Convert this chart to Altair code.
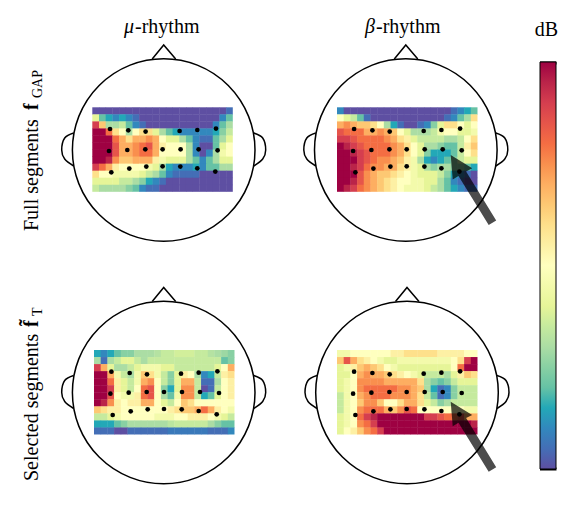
import altair as alt
import pandas as pd

alt.data_transformers.disable_max_rows()

SPECTRAL_R = ["#5e4fa2", "#3288bd", "#66c2a5", "#abdda4", "#e6f598", "#ffffbf",
              "#fee08b", "#fdae61", "#f46d43", "#d53e4f", "#9e0142"]
LEVELS = list(range(11))

FULL_MU = [
 [0,0,0,0,0,0,0,0,0,0,0,0,0,0,0,0,0,0,0,0,0.5],
 [4,2,1.5,1,1.5,1,0.5,0,0,0,0,0,0,0,0,0,0,0,0,1,2],
 [9,6.5,3,3,3.5,2,1,0.5,0,0,0,0,0,0,0,0,0,0,1,2,3],
 [10,10,8,6,5,3,5,6,6,4,3,2,1.5,1,1,1,1,1,1.5,2.5,3.5],
 [10,10,10,8,7,6,7,7,7.5,7,5,4,4,3,2,1,0.5,0.5,2,3,4],
 [10,10,10,8.5,7,7,7.5,8,8.5,7,5.5,5,5,5,3,1,0,0,2,4,5],
 [10,10,10,8.5,7,7,7.5,8,8,7,5,5,5,5,3,1,0,1,3,4.5,5],
 [10,10,9.5,7.5,6.5,6.5,7,7,7,5.5,4.5,4,4,4,3,2,1,2,3,4,4],
 [9,8,7,5.5,5,5,5,5,4.5,4,3,1.5,1,1,1,1.5,1,2,2,3,3],
 [6,5,5,4.5,4.5,4.5,4.5,4,3.5,3,2,1,0.5,0.5,0.5,0.5,0,0,0,0,0],
 [4,4,4,4,3.5,3.5,3,2.5,1.5,1,0.5,0,0,0,0,0,0,0,0,0,0],
 [3.5,3,3,3,3,2.5,2,1,0.5,0.5,0,0,0,0,0,0,0,0,0,0,0],
]
FULL_BETA = [
 [1,0,0,0,0,0,0,0,0,0,0,0,0,0,0,0,0,0.5,1,1.5,2],
 [5,4,3.5,2,0.5,0,0,0,0,0,0,0,0,0,0,0,0.5,1,2,3,6],
 [7,7.5,7,6.5,6.5,6,5,3,1.5,0.5,0,0,0.5,1,2.5,4,6,6,5,4,5],
 [8.5,8,8,8,7,7,7.5,7,6.5,5,4,3,3,3,3.5,4.5,5,5,4,4,4.5],
 [9,9,8.5,8,8,8,8,7.5,7,6,5.5,4,3.5,3.5,3.5,3.5,3,3,3.5,5,6],
 [10,9.5,9,8.5,8,8,8,8,7.5,7,6,5,4,3,3,2.5,2,2,3.5,5.5,6.5],
 [10,10,9.5,9,8.5,8,8,8,7.5,7,6,5,4,2.5,1.5,1.5,1.5,2,3.5,5,6],
 [10,10,10,9,8.5,8,7.5,7.5,7,6.5,5.5,4.5,3,1.5,1,1.5,2,2.5,3.5,4,4],
 [10,10,9.5,9,8,7.5,7.5,7,7,6,5.5,4.5,4,3,2.5,3,3,2.5,2.5,2,1.5],
 [10,10,10,8.5,7.5,7,6.5,6.5,6,5.5,5,4.5,4,4,4,3.5,2.5,1.5,1,0.5,0],
 [10,10,9.5,8.5,7.5,7,6.5,6,5.5,5,5,4.5,4.5,4,4,3,2,1,0.5,0,0],
 [10,9.5,9,8,7.5,7,6.5,6,5.5,5,4.5,4.5,4.5,4,3.5,3,2,1.5,1,0.5,0.5],
]
SEL_MU = [
 [1.5,1,1.5,2,2.5,2.5,3,3,3,3.2,3.5,3.5,3.7,3.7,3.7,3.5,3.5,3.2,3,2.8,2.5],
 [3,0.5,3,3.5,4,4,3.5,3,3.5,3.5,3.5,3.5,3.5,3.5,3.5,3.5,3.5,3.5,3.5,2,2.5],
 [9,7,4,3,3,3.5,4,4.5,4.5,4.5,4,4,3.5,3.5,3.5,3.5,3.5,3.5,4,5,7],
 [10,10,7,4.5,3.5,3,4.5,6.5,6,4.5,3.5,2.5,4,5.5,5,3,1,1.5,3.5,5.5,6],
 [10,10,8,5.5,4,3.5,4.5,7,7.5,5,3.5,2.5,4,7,7,3.5,0.5,0.5,3,5,5.5],
 [10,10,9,5.5,4,3.5,5,8,8.5,5,2.5,1.5,4,7.5,7.5,3.5,0,0.5,3.5,5,5.5],
 [10,10,8.5,5,4.5,4.5,5.5,8,8.5,5,3,2,4.5,7.5,7.5,3.5,1.5,2,4,5,5.5],
 [10,9.5,7.5,5.5,5,5.5,5.5,7,7,5,4,3.5,5,6.5,6,5,5,5,5,5,5],
 [6.5,6,5.5,5.5,5,5,5,5,5,5,5,5.5,6,6.5,6.5,7,8,7,5.5,5,4.5],
 [3.5,3.5,4,4.5,5,5,5,5,5,4.5,4.5,4.5,5,5,5.5,5.5,5.5,5,4.5,4,3.5],
 [1.5,1.5,1.5,2,2.5,3,3,3,3,3,3,3.3,3.5,3.5,3.5,3.5,3.5,3,2.5,2,2],
 [0.5,0.5,0.5,0,0,0.5,0.5,0.5,0.5,0.5,0.5,0.7,0.7,0.7,0.7,0.7,0.7,0.5,0.5,0.5,1],
]
SEL_BETA = [
 [4.5,4.5,5,5,5,5,5,5,5.5,5.5,6,6,6,6,6,5.5,5.5,5.5,5.5,5,5],
 [6.5,8.5,7,6,5.5,5,4.5,4,4,4.5,4.5,4.5,4.5,4.5,4.5,4.5,4.5,5,6,9,10],
 [4,4.5,5.5,6.5,7,6.5,6,5,4.5,4,4,4,4,4,4,4,4,5,8,10,10],
 [4,4,5,7,7.5,7,7,6.5,6,5.5,5,4.5,4,3.5,3.5,3.5,3,4,5.5,6.5,6],
 [4,4.5,5,7.5,7.5,7.5,7.5,7,7,7,7,7,6,3,2.5,2,2.5,3.5,4,4,4],
 [4,4.5,5,7.5,8,8,8,8,8,7.5,7.5,7,6.5,3,1.5,0.5,1,2.5,3.5,3.5,3.5],
 [3.5,4.5,5,7,7.5,8,8,8,7.5,7.5,7.5,7,6,3.5,2,0.5,1,2.5,3.5,3.5,3.5],
 [3.5,4.5,5,6.5,7.5,7.5,6.5,5,5,6,7,7,6,4,3.5,2.5,3,3.5,3.5,3.5,3.5],
 [3.5,4.5,5,7.5,8,8,8,7,6.5,7.5,8.5,8,5,5,5,5,5,5,5,4.5,4.5],
 [4,4.5,5,8,9,9.5,10,10,10,10,10,10,10,9,9,8.5,8,8,8.5,7,7],
 [4,4.5,5,7.5,8,9,10,10,10,10,10,10,10,10,10,10,10,10,10,10,9.5],
 [4,5,5.5,6.5,7.5,8,9,10,10,10,10,10,10,10,10,10,10,10,10,10,10],
]

ELECTRODE_X = [17.7,36,53.3,87.3,105,123.7, 16.7,35,53,70.3,88.3,106.3,125.3, 19,37,54,70.3,88,105,123]
ELECTRODE_Y = [21.7,23,24.3,23.7,22.7,21.3, 43.7,42.7,42,42,42,42,43, 65,61.3,59.3,59,59.3,61,64.3]

NOSE_X, NOSE_Y = [-11.5, 0, 12], [-91, -105, -91]
EAR_X = [-90, -99, -102, -99, -90]
EAR_Y = [-17, -12, 0, 9, 16]

# name, heat values, heat left, heat top, head centre x, head centre y, electrode shift
PANELS = [
    ("a", FULL_MU, 92.3, 107.3, 163.7, 150.0, 0.0),
    ("b", FULL_BETA, 337.0, 107.3, 405.8, 150.0, -0.6),
    ("c", SEL_MU, 94.0, 350.0, 163.7, 392.5, -0.3),
    ("d", SEL_BETA, 337.0, 350.0, 407.0, 392.5, -0.6),
]
HEAT_W, HEAT_H = 140.5, 84.5
ARROW_TIPS_X, ARROW_TIPS_Y = [450.7, 450.7], [155.0, 401.7]

xs = alt.Scale(domain=[8, 573], range=[0, 565], zero=False, nice=False)
ys = alt.Scale(domain=[8, 498], range=[0, 490], zero=False, nice=False)
X = lambda f: alt.X(f, type="quantitative", scale=xs, axis=None)
Y = lambda f: alt.Y(f, type="quantitative", scale=ys, axis=None)
cs = alt.Scale(domain=LEVELS, range=SPECTRAL_R)

cells, dots, outline = [], [], []
for name, grid, left, top, cx, cy, shift in PANELS:
    rows, cols = len(grid), len(grid[0])
    for r, row in enumerate(grid):
        for c, v in enumerate(row):
            over_x = 0.4 if c < cols - 1 else 0.0
            over_y = 0.4 if r < rows - 1 else 0.0
            cells.append(dict(x=left + c * HEAT_W / cols, x2=left + (c + 1) * HEAT_W / cols + over_x,
                              y=top + r * HEAT_H / rows, y2=top + (r + 1) * HEAT_H / rows + over_y, v=v))
    for ex, ey in zip(ELECTRODE_X, ELECTRODE_Y):
        dots.append(dict(x=left + shift + ex, y=top + ey))
    for i, (nx, ny) in enumerate(zip(NOSE_X, NOSE_Y)):
        outline.append(dict(g=name + "n", i=i, x=cx + nx, y=cy + ny))
    for i, (ex, ey) in enumerate(zip(EAR_X, EAR_Y)):
        outline.append(dict(g=name + "l", i=i, x=cx + ex, y=cy + ey))
        outline.append(dict(g=name + "r", i=i, x=cx - ex, y=cy + ey))

heat = alt.Chart(pd.DataFrame(cells)).mark_rect(strokeWidth=0).encode(
    x=X("x"), x2="x2", y=Y("y"), y2="y2",
    color=alt.Color("v:Q", scale=cs, legend=alt.Legend(
        type="gradient", orient="none", legendX=532, legendY=54, direction="vertical",
        gradientLength=407, gradientThickness=16, labelOpacity=0, labelFontSize=1, tickCount=2,
        gradientStrokeColor="#000", gradientStrokeWidth=1, title=None)),
)

heads = alt.Chart(pd.DataFrame([dict(x=p[4], y=p[5]) for p in PANELS])).mark_point(
    shape="circle", filled=False, color="#000", strokeWidth=1.5, opacity=1,
    size=(2 * 91.3) ** 2).encode(x=X("x"), y=Y("y"))

df_out = pd.DataFrame(outline)
noses = alt.Chart(df_out[df_out.g.str.endswith("n")]).mark_line(
    color="#000", strokeWidth=1.5).encode(x=X("x"), y=Y("y"), detail="g:N", order="i:Q")
ears = alt.Chart(df_out[~df_out.g.str.endswith("n")]).mark_line(
    color="#000", strokeWidth=1.5, interpolate="cardinal").encode(
    x=X("x"), y=Y("y"), detail="g:N", order="i:Q")

electrodes = alt.Chart(pd.DataFrame(dots)).mark_point(
    shape="circle", filled=True, color="#000", opacity=1, size=22).encode(x=X("x"), y=Y("y"))

ARROW = "M0,0L21.5,13.3L15.4,16.4L45.5,65.5L38,70L7.8,21L2,24.5Z"
arrows = alt.Chart(pd.DataFrame(dict(x=ARROW_TIPS_X, y=ARROW_TIPS_Y))).mark_point(
    shape=ARROW, size=4, filled=True, color="#000", opacity=0.7, strokeWidth=0).encode(
    x=X("x"), y=Y("y"))

caps = alt.Chart(pd.DataFrame(dict(x=[540.0, 540.0], x2=[556.5, 556.5], y=[63.0, 469.0]))).mark_rule(
    color="#000", strokeWidth=3).encode(x=X("x"), x2="x2", y=Y("y"))


def label(df, **kw):
    base = dict(font="Liberation Serif", color="#000", baseline="alphabetic", align="left")
    base.update(kw)
    return alt.Chart(pd.DataFrame(df)).mark_text(**base).encode(
        x=X("x"), y=Y("y"), text="t:N")


t_col = label(dict(x=[124.0, 365.0], y=[33.0, 33.0], t=["\u03bc", "\u03b2"]), fontSize=20, fontStyle="italic")
t_col2 = label(dict(x=[135.0, 376.0], y=[33.0, 33.0], t=["-rhythm", "-rhythm"]), fontSize=20)
t_db = label(dict(x=[546.5], y=[36.0], t=["dB"]), fontSize=20, align="center")
t_row = label(dict(x=[38.0, 38.0], y=[231.0, 481.0], t=["Full segments", "Selected segments"]), fontSize=20, angle=270)
t_f = label(dict(x=[38.0, 38.0], y=[110.0, 327.0], t=["f", "f\u0303"]), fontSize=20, angle=270, fontWeight="bold")
t_sub = label(dict(x=[42.0, 42.0], y=[98.0, 316.0], t=["GAP", "T"]), fontSize=14, angle=270)

chart = alt.layer(heat, heads, noses, ears, electrodes, arrows, caps, t_col, t_col2, t_db, t_row, t_f, t_sub).properties(
    width=565, height=490, padding=0, autosize=alt.AutoSizeParams(type="none")
).configure_view(stroke=None)

chart.save("out.html", embed_options={"renderer": "svg", "actions": False})
